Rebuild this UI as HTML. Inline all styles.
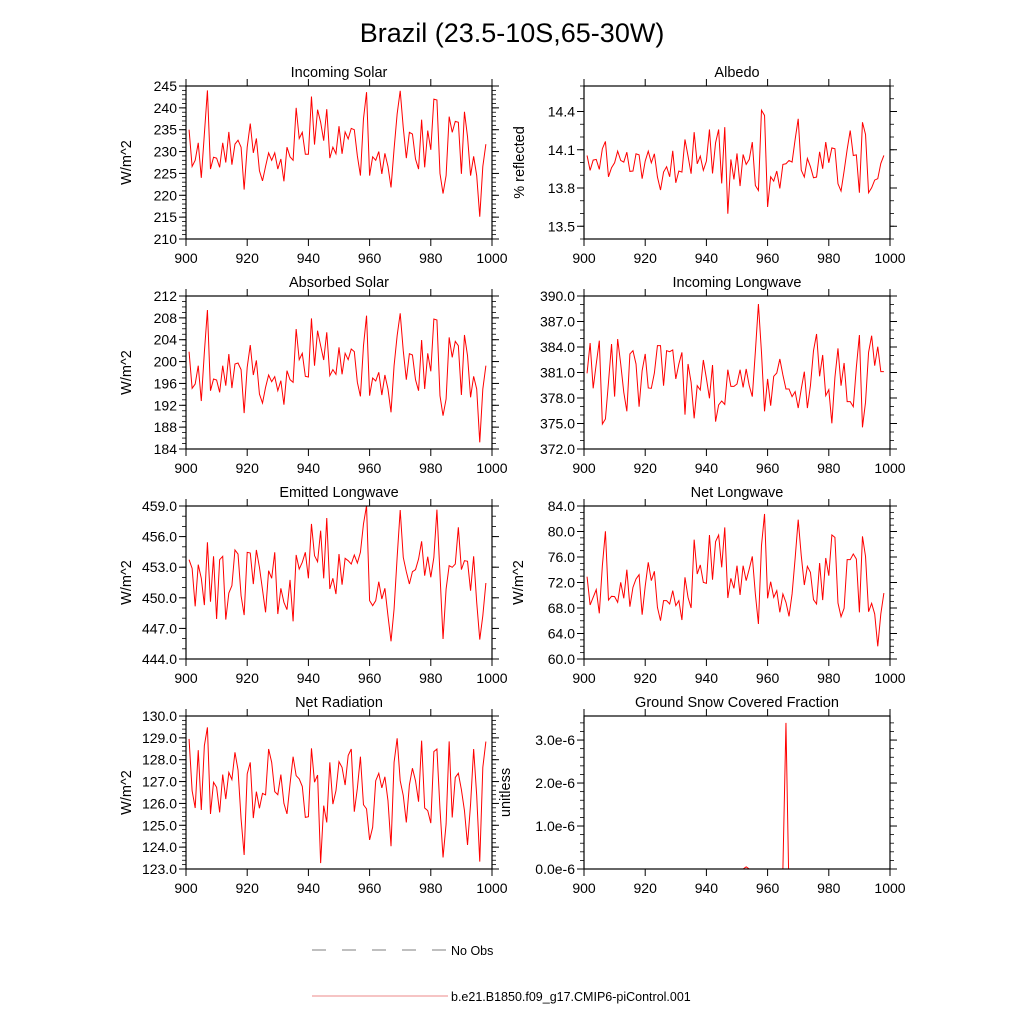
<!DOCTYPE html>
<html><head><meta charset="utf-8">
<style>
html,body{margin:0;padding:0;background:#fff;}
svg{display:block;font-family:"Liberation Sans",Arial,sans-serif;}
</style></head>
<body>
<svg id="chart" width="1024" height="1024" viewBox="0 0 1024 1024" xmlns="http://www.w3.org/2000/svg">
<text x="512" y="42" text-anchor="middle" font-size="27">Brazil (23.5-10S,65-30W)</text>
<g id="panels"></g>
<g>
<line x1="312" y1="950" x2="448" y2="950" stroke="#555" stroke-width="0.8" stroke-dasharray="14,16"/>
<text x="451" y="955" font-size="12.5">No Obs</text>
<line x1="312" y1="996" x2="448" y2="996" stroke="#e88" stroke-width="1"/>
<text x="451" y="1001" font-size="12.5">b.e21.B1850.f09_g17.CMIP6-piControl.001</text>
</g>
</svg>
<script>
const years0 = 901;
const xTicks = [900, 920, 940, 960, 980, 1000];
const incomingSolar = [235,226.6,228,232,224,234,244,226,228.7,228.5,226.4,232,227.5,234.5,227,231.7,232.6,231,221.3,231,236.4,229.7,233,225.6,223.3,226.6,229.7,228,229.7,226,228.3,223.2,231,228.8,228,240,233,234.4,229.4,229.4,242.6,231.6,239.6,236.7,232.5,239.7,228.5,231,229.5,235.8,229.5,234.5,232.9,235.3,235,229,224.5,237.5,243.6,224.5,228.8,228,230,224.9,229.6,226.6,221.8,230.6,238.6,243.9,235.5,228.5,234.4,234,228.3,226,237.3,226.4,234.8,230.4,242,241.8,225,220.4,224.5,238,234.4,236.9,236.7,224.9,239.1,233.4,224.5,228.9,224.5,215.1,226.6,231.7];
const albedo = [14.055,13.938,14.019,14.024,13.946,14.108,14.165,13.888,13.959,13.998,14.089,14.016,14.003,14.081,13.930,13.933,14.068,14.060,13.873,14.011,14.089,13.998,14.068,13.886,13.784,13.925,13.967,13.888,14.092,13.841,13.933,13.925,14.181,14.050,13.912,14.238,13.990,14.050,13.938,14.011,14.259,13.914,14.155,14.259,13.836,14.277,13.598,14.024,13.867,14.071,13.815,14.063,13.985,14.024,14.160,13.820,13.781,14.410,14.369,13.651,13.888,13.854,13.933,13.797,13.985,13.990,14.016,14.003,14.181,14.343,13.940,13.886,14.032,13.967,13.880,13.886,14.084,13.951,14.160,13.998,14.115,14.108,13.833,13.776,13.933,14.102,14.251,14.055,14.060,13.763,14.316,14.220,13.763,13.802,13.862,13.873,13.993,14.055];
const absorbedSolar = [201.81,195.10,195.89,199.25,192.78,201.69,209.44,194.67,196.81,196.62,194.37,199.25,195.59,201.38,195.16,199.55,199.74,198.52,190.58,198.94,203.03,197.54,200.22,194.06,192.41,195.28,197.54,196.32,197.24,194.67,196.50,192.11,198.33,196.69,196.20,205.96,200.35,201.51,197.30,197.17,207.91,199.25,205.65,202.91,200.29,205.35,197.42,198.52,197.66,202.60,197.66,201.51,200.35,202.30,201.81,196.20,193.63,202.91,208.40,193.76,196.99,196.44,198.03,193.88,197.54,194.98,190.71,199.25,204.74,208.83,201.99,196.69,201.44,201.20,196.69,194.67,203.95,194.98,201.51,198.21,207.79,207.61,193.76,190.10,193.15,204.43,200.77,203.70,202.91,193.88,204.86,201.08,193.45,197.30,194.98,185.22,194.98,199.25];
const incomingLW = [380.90,384.47,379.14,382.00,384.75,374.94,375.53,379.84,384.35,378.16,384.94,382.00,378.67,376.43,383.18,383.57,382.00,376.98,381.22,383.18,379.18,379.14,380.94,384.16,384.16,379.45,383.57,383.45,383.65,380.24,382.00,383.37,376.04,382.00,379.84,375.61,379.45,378.94,382.47,380.31,377.96,381.88,375.22,377.18,377.65,377.25,381.33,379.37,379.37,379.65,381.33,379.25,381.41,379.45,378.16,383.45,389.06,383.37,376.43,380.24,377.10,380.55,380.94,382.59,380.71,379.06,379.06,378.16,378.75,376.82,379.06,381.10,376.82,379.45,383.57,385.53,380.55,383.06,378.27,378.98,375.02,380.43,383.84,379.45,382.12,377.57,377.57,376.98,381.61,385.41,374.55,377.49,383.37,385.33,381.80,384.04,381.10,381.10];
const emittedLW = [453.74,452.89,449.16,453.25,451.91,449.29,455.44,449.62,454.07,447.92,453.74,454.07,447.86,450.47,451.19,454.69,454.29,450.21,448.31,454.46,454.39,451.35,454.69,452.99,450.80,448.58,452.66,451.91,454.46,448.41,450.93,449.56,448.84,451.75,447.69,454.20,452.82,453.48,454.46,451.91,457.24,454.13,453.54,456.58,451.91,457.82,450.86,451.91,450.37,454.29,451.29,453.87,453.64,453.31,454.20,453.41,454.46,457.24,459.03,449.72,449.23,449.72,451.58,449.88,450.93,448.25,445.73,448.90,453.97,458.61,453.97,452.56,451.35,452.56,452.76,453.80,455.54,452.17,454.03,452.01,453.97,458.64,452.33,445.96,450.86,453.15,452.99,453.31,456.91,452.76,453.64,453.58,450.70,454.07,449.56,445.90,448.25,451.45];
const netLW = [72.91,68.47,69.67,70.88,67.16,74.64,80.03,69.25,69.83,69.78,68.89,72.03,69.52,74.01,68.21,71.24,72.55,73.23,66.95,71.40,75.16,72.29,73.75,68.10,66.01,69.15,69.15,68.63,70.72,68.37,69.15,66.12,72.81,69.67,68.00,78.72,73.33,74.75,72.03,71.87,79.45,72.44,78.41,79.45,74.38,80.65,69.57,72.65,71.08,74.64,70.04,74.64,72.29,74.12,76.10,70.20,65.49,77.78,82.75,69.52,72.13,69.67,70.72,67.32,70.20,68.89,66.69,70.20,75.79,81.86,76.21,71.61,74.54,73.59,69.31,68.63,75.06,69.25,75.84,73.07,79.45,79.08,68.78,66.64,67.95,75.58,75.58,76.47,75.69,67.32,79.24,76.10,67.42,68.73,67.06,61.99,67.06,70.35];
const netRad = [128.95,126.58,125.79,128.44,125.70,128.64,129.48,125.52,126.97,126.74,125.59,127.32,126.20,127.42,127.09,128.34,127.53,125.29,123.64,127.35,127.88,125.33,126.54,125.78,126.46,126.39,128.49,127.88,126.54,126.40,127.32,126.00,125.52,126.89,128.14,127.27,127.12,126.78,125.36,125.39,128.52,126.97,127.30,123.27,125.90,125.13,127.88,125.97,126.58,127.91,127.65,126.84,128.19,128.49,125.62,126.69,128.14,125.94,125.75,124.33,124.91,127.04,127.38,126.71,127.22,126.13,124.04,127.88,128.98,127.04,126.36,125.13,126.84,127.61,127.04,126.08,128.87,125.79,125.67,125.10,128.37,128.49,125.75,123.53,125.06,128.84,125.36,127.19,127.38,126.63,125.67,124.10,125.97,128.49,126.36,123.34,127.65,128.83];
const snowFrac = [0,0,0,0,0,0,0,0,0,0,0,0,0,0,0,0,0,0,0,0,0,0,0,0,0,0,0,0,0,0,0,0,0,0,0,0,0,0,0,0,0,0,0,0,0,0,0,0,0,0,0,0,0.05e-6,0,0,0,0,0,0,0,0,0,0,0,0,3.4e-6,-0.6e-6,0,0,0,0,0,0,0,0,0,0,0,0,0,0,0,0,0,0,0,0,0,0,0,0,0,0,0,0,0,0,0,0];

const ticks1 = [210,215,220,225,230,235,240,245];
const ticks2 = [13.5,13.8,14.1,14.4];
const ticks3 = [184,188,192,196,200,204,208,212];
const ticks4 = [372,375,378,381,384,387,390];
const ticks5 = [444,447,450,453,456,459];
const ticks6 = [60,64,68,72,76,80,84];
const ticks7 = [123,124,125,126,127,128,129,130];
const ticks8 = [0,1e-6,2e-6,3e-6];

const NS = "http://www.w3.org/2000/svg";
const root = document.getElementById('panels');
function mk(tag, attrs, parent){const e=document.createElementNS(NS,tag);for(const k in attrs)e.setAttribute(k,attrs[k]);(parent||root).appendChild(e);return e;}

const panels = [
 {name:'incoming-solar',title:'Incoming Solar',ylab:'W/m^2',lx:131,data:incomingSolar,ticks:ticks1,ymin:210,ymax:245,minor:1,fmt:v=>v.toFixed(0),col:0,row:0},
 {name:'albedo',title:'Albedo',ylab:'% reflected',lx:524,data:albedo,ticks:ticks2,ymin:13.4,ymax:14.6,minor:0.1,fmt:v=>v.toFixed(1),col:1,row:0},
 {name:'absorbed-solar',title:'Absorbed Solar',ylab:'W/m^2',lx:131,data:absorbedSolar,ticks:ticks3,ymin:184,ymax:212,minor:1,fmt:v=>v.toFixed(0),col:0,row:1},
 {name:'incoming-longwave',title:'Incoming Longwave',ylab:'',lx:519,data:incomingLW,ticks:ticks4,ymin:372,ymax:390,minor:1,fmt:v=>v.toFixed(1),col:1,row:1},
 {name:'emitted-longwave',title:'Emitted Longwave',ylab:'W/m^2',lx:131,data:emittedLW,ticks:ticks5,ymin:444,ymax:459,minor:1,fmt:v=>v.toFixed(1),col:0,row:2},
 {name:'net-longwave',title:'Net Longwave',ylab:'W/m^2',lx:523,data:netLW,ticks:ticks6,ymin:60,ymax:84,minor:1,fmt:v=>v.toFixed(1),col:1,row:2},
 {name:'net-radiation',title:'Net Radiation',ylab:'W/m^2',lx:131,data:netRad,ticks:ticks7,ymin:123,ymax:130,minor:0.2,fmt:v=>v.toFixed(1),col:0,row:3},
 {name:'snow-fraction',title:'Ground Snow Covered Fraction',ylab:'unitless',lx:510,data:snowFrac,ticks:ticks8,ymin:0,ymax:3.56e-6,minor:0.2e-6,fmt:v=>(v/1e-6).toFixed(1)+'e-6',col:1,row:3}
];
const colX=[186,584], W=306, rowY=[86,296,506,716], H=153;

panels.forEach((p,pi)=>{
  const L=colX[p.col], T=rowY[p.row], R=L+W, B=T+H;
  const g=mk('g',{});
  
  
  const xs=v=>L+(v-900)/100*W;
  const ys=v=>B-(v-p.ymin)/(p.ymax-p.ymin)*H;
  const cid='clip'+pi;
  const cp=mk('clipPath',{id:cid},g);mk('rect',{x:L,y:T,width:W,height:H},cp);
  const eps=1e-9*(p.ymax-p.ymin);
  const first=Math.ceil((p.ymin-eps)/p.minor);
  for(let k=first;k*p.minor<=p.ymax+eps;k++){
    const v=k*p.minor, y=ys(v);
    mk('line',{x1:L-4,y1:y,x2:L,y2:y,stroke:'#000','stroke-width':0.8},g);
    mk('line',{x1:R,y1:y,x2:R+4,y2:y,stroke:'#000','stroke-width':0.8},g);
  }
  p.ticks.forEach(v=>{
    const y=ys(v);
    const t1=mk('line',{x1:L-7,y1:y,x2:L,y2:y,stroke:'#000','stroke-width':1},g);
    
    
    mk('line',{x1:R,y1:y,x2:R+7,y2:y,stroke:'#000','stroke-width':1},g);
    const t=mk('text',{x:L-9,y:y+5,'text-anchor':'end','font-size':14},g);
    
    
    t.textContent=p.fmt(v);
  });
  xTicks.forEach(v=>{
    const x=xs(v);
    mk('line',{x1:x,y1:B,x2:x,y2:B+7,stroke:'#000','stroke-width':1},g);
    mk('line',{x1:x,y1:T-7,x2:x,y2:T,stroke:'#000','stroke-width':1},g);
    const t=mk('text',{x:x,y:B+24,'text-anchor':'middle','font-size':14},g);
    
    
    t.textContent=v;
  });
  let d='';
  p.data.forEach((v,i)=>{d+=(i?'L':'M')+xs(years0+i).toFixed(2)+','+ys(v).toFixed(2);});
  const line=mk('path',{d:d,fill:'none',stroke:'#ff0000','stroke-width':1,'clip-path':'url(#'+cid+')'},g);
  
  
  const fr=mk('rect',{x:L,y:T,width:W,height:H,fill:'none',stroke:'#000','stroke-width':1.2},g);
  
  
  const tt=mk('text',{x:L+W/2,y:T-9,'text-anchor':'middle','font-size':14.5},g);
  
  
  tt.textContent=p.title;
  if(p.ylab){
    const lx=p.lx;
    const yl=mk('text',{x:lx,y:T+H/2,'text-anchor':'middle','font-size':14.5,transform:'rotate(-90 '+lx+' '+(T+H/2)+')'},g);
    
    
    yl.textContent=p.ylab;
  }
});
</script>
</body></html>
